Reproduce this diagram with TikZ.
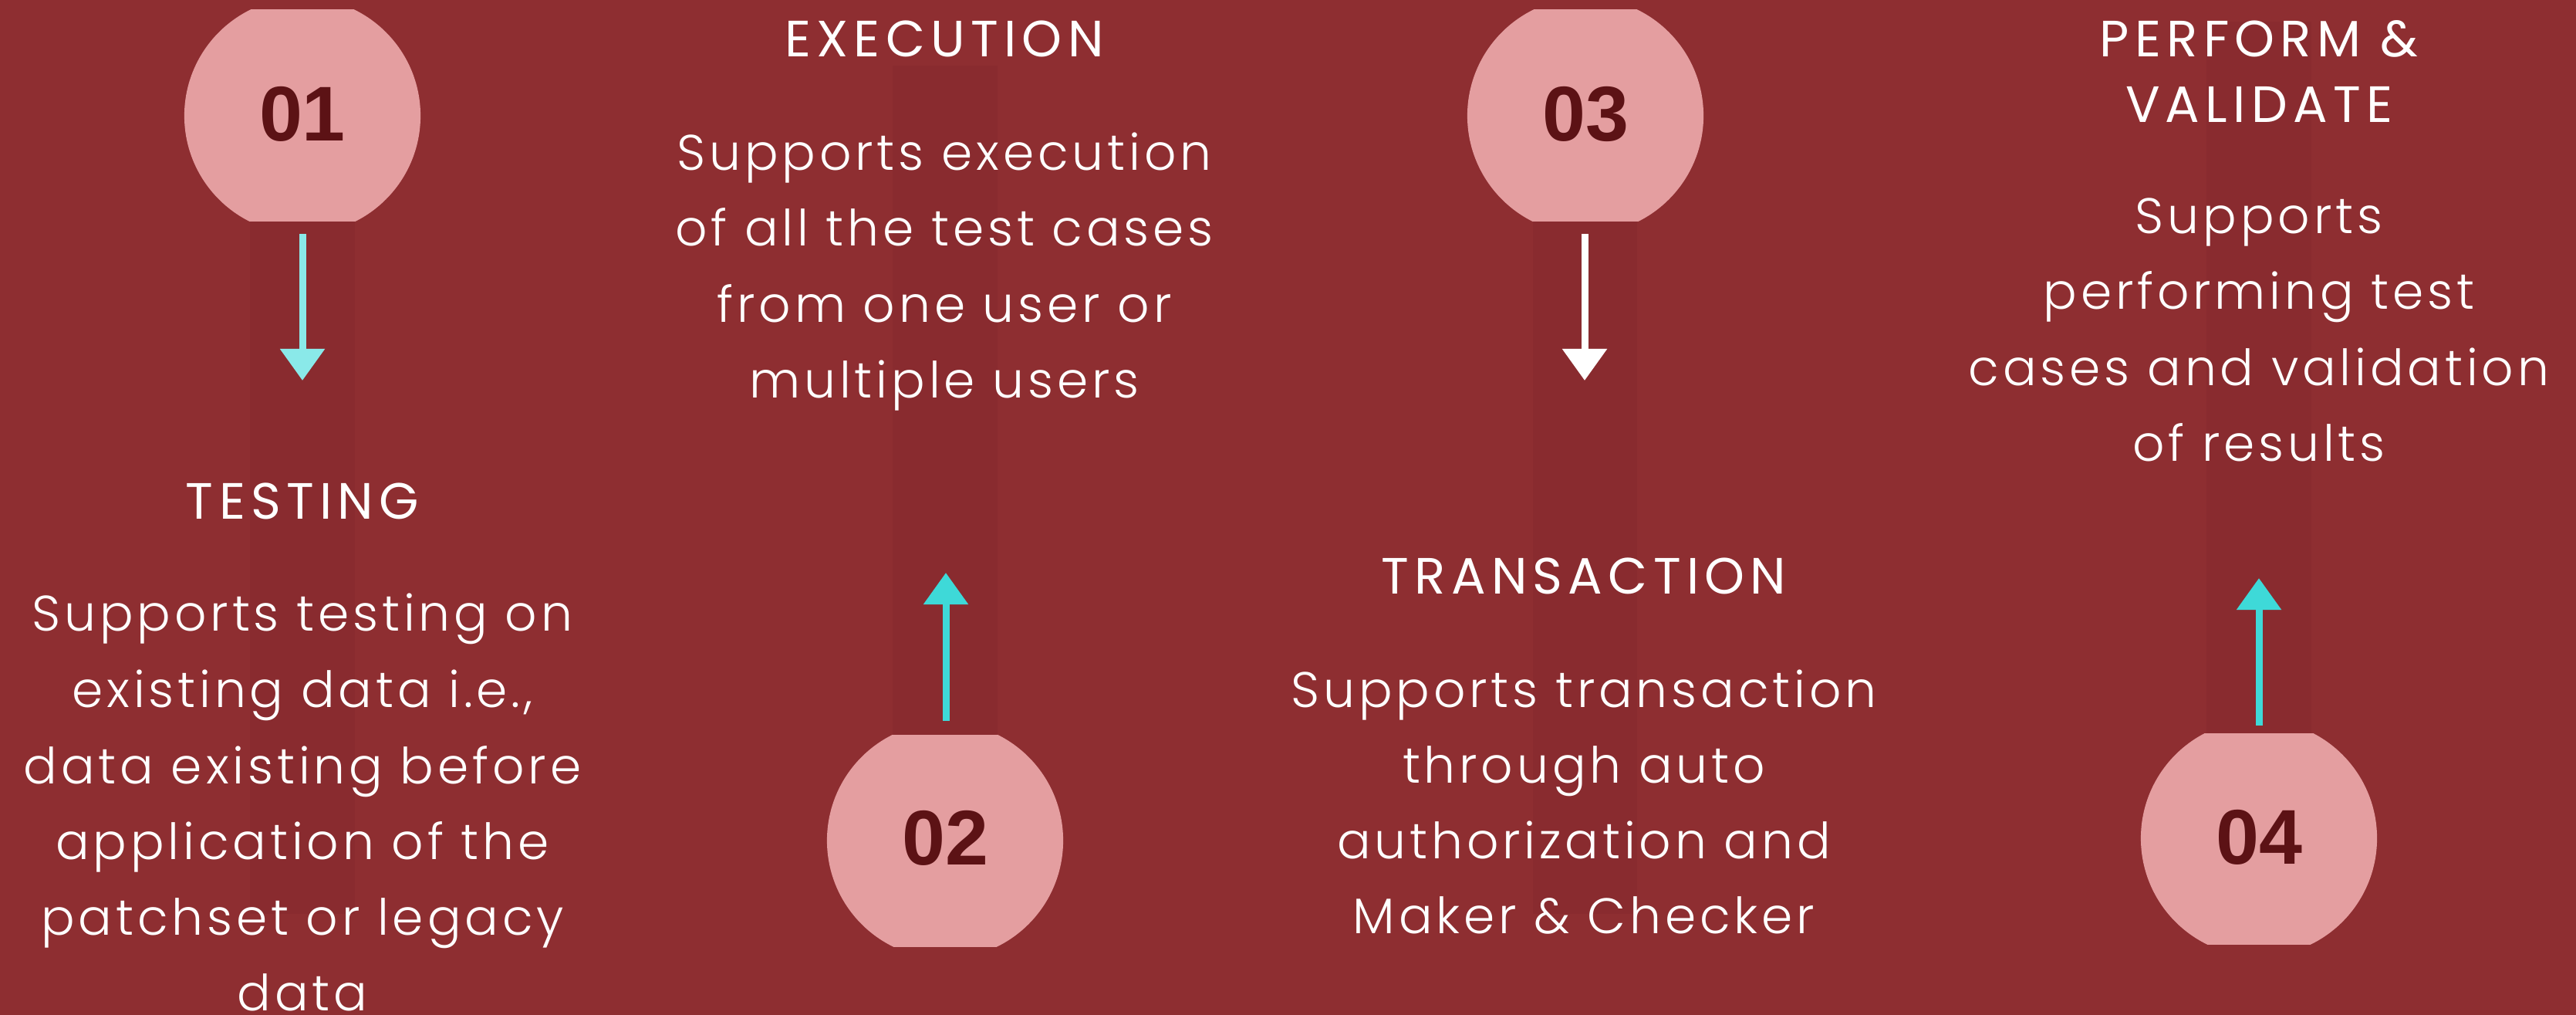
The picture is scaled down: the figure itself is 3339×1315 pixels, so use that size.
\documentclass[tikz,border=0pt]{standalone}
\usepackage{fontspec}
\usetikzlibrary{arrows.meta}
\newfontfamily\bodyfont{Poppins Light}[LetterSpace=7.5]
\newfontfamily\titlefont{Poppins}[LetterSpace=11]
\newfontfamily\numfont{Liberation Sans}
\definecolor{bgc}{HTML}{8E2E31}
\definecolor{stripec}{HTML}{892B2F}
\definecolor{pinkc}{HTML}{E49EA0}
\definecolor{digitc}{HTML}{5C1215}
\definecolor{cyanlight}{HTML}{8AE9E9}
\definecolor{cyanc}{HTML}{3ED9D8}
\tikzset{
  stripe/.style={fill=stripec},
  disc/.style={fill=pinkc},
  numlabel/.style={anchor=base, inner sep=0pt, text=digitc, font=\numfont\bfseries\fontsize{28.6pt}{30pt}\selectfont},
  titlelabel/.style={anchor=base, inner sep=0pt, text=white, font=\titlefont\fontsize{18.8pt}{24pt}\selectfont},
  bodylabel/.style={anchor=base, inner sep=0pt, text=white, font=\bodyfont\fontsize{18.4pt}{24pt}\selectfont},
  flow/.style={line width=0.09cm, -{Triangle[length=0.41cm, width=0.56cm]}},
}
\begin{document}
\begin{tikzpicture}[x=0.01cm, y=-0.01cm]
\fill[bgc] (0,0) rectangle (3339,1315);
\useasboundingbox (0,0) rectangle (3339,1315);
% stripes
\fill[stripe] (324,286) rectangle (460,1184);
\fill[stripe] (1157,85) rectangle (1293,952);
\fill[stripe] (1987,286) rectangle (2122,1184);
\fill[stripe] (2860,28) rectangle (2996,950);
% discs
\begin{scope}\clip (200,12) rectangle (600,286); \fill[disc] (392,150) circle[radius=1.53cm];\end{scope}
\begin{scope}\clip (1030,952) rectangle (1430,1226); \fill[disc] (1225,1089) circle[radius=1.53cm];\end{scope}
\begin{scope}\clip (1860,12) rectangle (2260,286); \fill[disc] (2055,150) circle[radius=1.53cm];\end{scope}
\begin{scope}\clip (2730,950) rectangle (3130,1223); \fill[disc] (2928,1086) circle[radius=1.53cm];\end{scope}
% numbers
\node[numlabel] (n1) at (392,182) {01};
\node[numlabel] (n2) at (1225,1120) {02};
\node[numlabel] (n3) at (2055,182) {03};
\node[numlabel] (n4) at (2928,1119) {04};
% arrows
\coordinate (a1s) at (392,303); \coordinate (a1e) at (392,493);
\coordinate (a2s) at (1226,934); \coordinate (a2e) at (1226,742);
\coordinate (a3s) at (2054,303); \coordinate (a3e) at (2054,493);
\coordinate (a4s) at (2928,940); \coordinate (a4e) at (2928,749);
\draw[flow, cyanlight] (a1s) -- (a1e);
\draw[flow, cyanc] (a2s) -- (a2e);
\draw[flow, white] (a3s) -- (a3e);
\draw[flow, cyanc] (a4s) -- (a4e);
% titles
\node[titlelabel] (t1) at (392,672) {TESTING};
\node[titlelabel] (t2) at (1224,73) {EXECUTION};
\node[titlelabel] (t3) at (2053,769) {TRANSACTION};
\node[titlelabel] (t4a) at (2928,73) {PERFORM \&};
\node[titlelabel] (t4b) at (2928,158) {VALIDATE};
% body column 1
\node[bodylabel] (b11) at (392,817) {Supports testing on};
\node[bodylabel] (b12) at (392,916) {existing data i.e.,};
\node[bodylabel] (b13) at (392,1015) {data existing before};
\node[bodylabel] (b14) at (392,1113) {application of the};
\node[bodylabel] (b15) at (392,1211) {patchset or legacy};
\node[bodylabel] (b16) at (392,1309) {data};
% body column 2
\node[bodylabel] (b21) at (1224,220) {Supports execution};
\node[bodylabel] (b22) at (1224,318) {of all the test cases};
\node[bodylabel] (b23) at (1224,417) {from one user or};
\node[bodylabel] (b24) at (1224,515) {multiple users};
% body column 3
\node[bodylabel] (b31) at (2053,916) {Supports transaction};
\node[bodylabel] (b32) at (2053,1014) {through auto};
\node[bodylabel] (b33) at (2053,1112) {authorization and};
\node[bodylabel] (b34) at (2053,1209) {Maker \& Checker};
% body column 4
\node[bodylabel] (b41) at (2928,302) {Supports};
\node[bodylabel] (b42) at (2928,400) {performing test};
\node[bodylabel] (b43) at (2928,499) {cases and validation};
\node[bodylabel] (b44) at (2928,597) {of results};
\end{tikzpicture}
\end{document}
